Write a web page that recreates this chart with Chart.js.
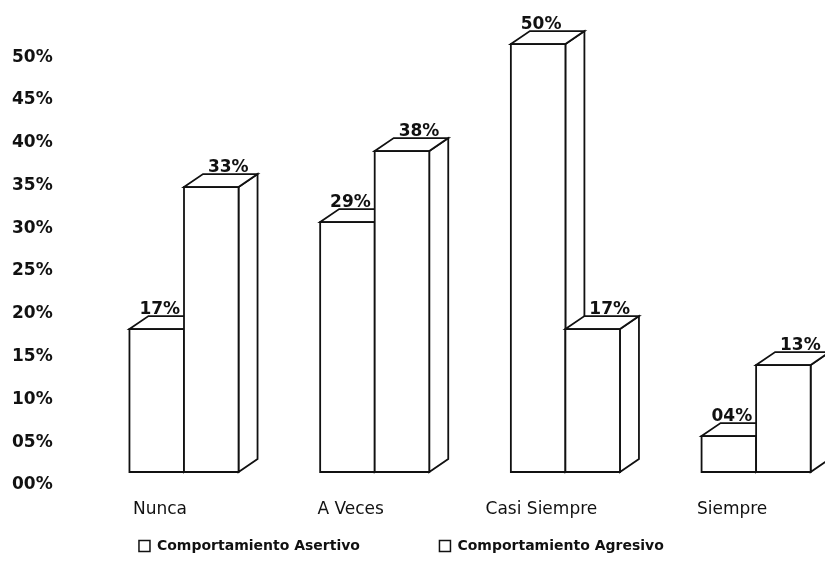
<!DOCTYPE html>
<html>
<head>
<meta charset="utf-8">
<script src="https://cdn.jsdelivr.net/npm/chart.js@4"></script>
<style>
  body { margin: 0; background: #fff; }
  #wrap { width: 825px; height: 563px; }
</style>
</head>
<body>
<div id="wrap"><canvas id="myChart"></canvas></div>
<script>
const categories = ["Nunca", "A Veces", "Casi Siempre", "Siempre"];
const asertivo = [16.7, 29.2, 50.0, 4.2];
const agresivo = [33.3, 37.5, 16.7, 12.5];
const seriesNames = ["Comportamiento Asertivo", "Comportamiento Agresivo"];
const yTicks = [0, 5, 10, 15, 20, 25, 30, 35, 40, 45, 50];

const FONT = "DejaVu Sans";
const dx = 19, dy = 13;
const labelShift = [3, 17];

function pct(v) {
  return String(Math.round(v)).padStart(2, "0") + "%";
}

// fake 3d boxes + value labels, drawn over the plain bars
const bars3d = {
  id: "bars3d",
  afterDatasetsDraw(chart) {
    const ctx = chart.ctx;
    ctx.save();
    ctx.lineJoin = "miter";
    for (let i = 0; i < categories.length; i++) {
      chart.data.datasets.forEach((ds, d) => {
        const bar = chart.getDatasetMeta(d).data[i];
        const p = bar.getProps(["x", "y", "base", "width"], true);
        const l = p.x - p.width / 2, r = p.x + p.width / 2, t = p.y, b = p.base;
        ctx.fillStyle = "#fff";
        ctx.strokeStyle = "#111";
        ctx.lineWidth = 1.8;
        // side
        ctx.beginPath();
        ctx.moveTo(r, t);
        ctx.lineTo(r + dx, t - dy);
        ctx.lineTo(r + dx, b - dy);
        ctx.lineTo(r, b);
        ctx.closePath();
        ctx.fill();
        ctx.stroke();
        // top
        ctx.beginPath();
        ctx.moveTo(l, t);
        ctx.lineTo(l + dx, t - dy);
        ctx.lineTo(r + dx, t - dy);
        ctx.lineTo(r, t);
        ctx.closePath();
        ctx.fill();
        ctx.stroke();
        // front
        ctx.beginPath();
        ctx.rect(l, t, r - l, b - t);
        ctx.fill();
        ctx.stroke();
        // value
        ctx.fillStyle = "#111";
        ctx.font = "bold 17px '" + FONT + "'";
        ctx.textAlign = "center";
        ctx.textBaseline = "alphabetic";
        ctx.fillText(pct(ds.data[i].y), p.x + labelShift[d], t - dy - 2);
      });
    }
    ctx.restore();
  }
};

const ctx = document.getElementById("myChart");
new Chart(ctx, {
  type: "bar",
  data: {
    datasets: [
      {
        label: seriesNames[0],
        data: asertivo.map((v, i) => ({ x: i, y: v })),
        backgroundColor: "#fff",
        borderColor: "#111",
        borderWidth: 1.5,
      },
      {
        label: seriesNames[1],
        data: agresivo.map((v, i) => ({ x: i, y: v })),
        backgroundColor: "#fff",
        borderColor: "#111",
        borderWidth: 1.5,
      },
    ],
  },
  options: {
    responsive: true,
    maintainAspectRatio: false,
    animation: false,
    categoryPercentage: 0.572,
    barPercentage: 1.0,
    layout: { padding: { top: 27, right: 5, left: 12, bottom: 0 } },
    plugins: {
      tooltip: { enabled: false },
      legend: {
        position: "bottom",
        labels: {
          color: "#111",
          font: { family: FONT, size: 14, weight: "bold" },
          boxWidth: 11,
          boxHeight: 11,
          padding: 21,
          generateLabels(chart) {
            const items = Chart.defaults.plugins.legend.labels.generateLabels(chart);
            items[0].text = items[0].text + "            ";
            items[1].text = items[1].text + "      ";
            return items;
          },
        },
      },
    },
    scales: {
      x: {
        type: "linear",
        offset: false,
        min: -0.5034,
        max: 3.335,
        grid: { display: false, drawTicks: false },
        border: { display: false },
        afterBuildTicks(scale) {
          scale.ticks = categories.map((c, i) => ({ value: i }));
        },
        afterFit(scale) {
          scale.height = 46;
        },
        ticks: {
          padding: 27,
          labelOffset: -24,
          maxRotation: 0,
          color: "#111",
          font: { family: FONT, size: 17 },
          callback: (v) => categories[v],
        },
      },
      y: {
        min: 0,
        max: 52,
        grid: { display: false, drawTicks: false },
        border: { display: false },
        afterFit(scale) {
          scale.width = 76;
        },
        afterBuildTicks(scale) {
          scale.ticks = yTicks.map((v) => ({ value: v }));
        },
        ticks: {
          padding: 0,
          crossAlign: "far",
          labelOffset: 13,
          color: "#111",
          font: { family: FONT, size: 17, weight: "bold" },
          callback: (v) => pct(v),
        },
      },
    },
  },
  plugins: [bars3d],
});
</script>
</body>
</html>
